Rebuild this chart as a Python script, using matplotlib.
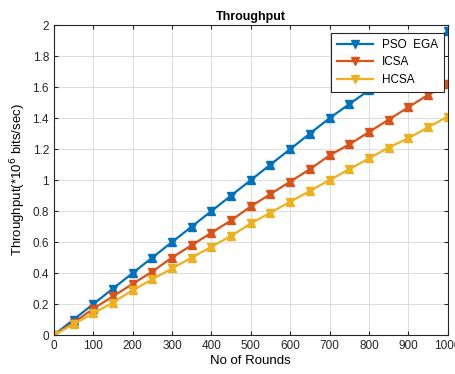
import numpy as np
import matplotlib.pyplot as plt

plt.rcParams['font.family'] = ['Liberation Sans', 'DejaVu Sans']

rounds = [0, 50, 100, 150, 200, 250, 300, 350, 400, 450, 500,
          550, 600, 650, 700, 750, 800, 850, 900, 950, 1000]
pso_ega = [0, 0.10, 0.20, 0.30, 0.40, 0.50, 0.60, 0.70, 0.80, 0.90, 1.00,
           1.10, 1.20, 1.30, 1.40, 1.49, 1.58, 1.68, 1.77, 1.87, 1.96]
icsa = [0, 0.08, 0.17, 0.25, 0.33, 0.41, 0.50, 0.58, 0.66, 0.74, 0.83,
        0.91, 0.99, 1.07, 1.16, 1.23, 1.31, 1.39, 1.47, 1.55, 1.62]
hcsa = [0, 0.07, 0.14, 0.21, 0.29, 0.36, 0.43, 0.50, 0.57, 0.64, 0.72,
        0.79, 0.86, 0.93, 1.00, 1.07, 1.14, 1.21, 1.27, 1.34, 1.41]
names = ['PSO  EGA', 'ICSA', 'HCSA']
colors = ['#0072BD', '#D95319', '#EDB120']

fig = plt.figure(figsize=(4.56, 3.74), dpi=100)
ax = fig.add_axes([0.118, 0.104, 0.864, 0.829])

for vals, name, c in zip([pso_ega, icsa, hcsa], names, colors):
    ax.plot(rounds, vals, '-v', color=c, lw=1.6, ms=5.5, label=name)
    ax.plot(rounds, vals, '^', color=c, ms=5.5)

ax.set_xlim(0, 1000)
ax.set_ylim(0, 2)
ax.set_xticks(np.arange(0, 1001, 100))
ax.set_yticks(np.arange(0, 2.01, 0.2))
ax.set_yticklabels(['0', '0.2', '0.4', '0.6', '0.8', '1', '1.2', '1.4', '1.6', '1.8', '2'])
ax.grid(True, color='#dcdcdc', lw=0.7)
ax.tick_params(direction='in', top=True, right=True, labelsize=8.5, colors='#262626', length=3)
for s in ax.spines.values():
    s.set_color('#262626')

ax.set_title('Throughput', fontsize=9, fontweight='bold', pad=4)
ax.set_xlabel('No of Rounds', fontsize=9.5, labelpad=2)
ax.set_ylabel('Throughput(*10$^6$ bits/sec)', fontsize=9.5, labelpad=3)

leg = ax.legend(loc='upper right', bbox_to_anchor=(1.0, 0.985), fontsize=8.5,
                fancybox=False, edgecolor='#262626', framealpha=1,
                handlelength=3.0, borderaxespad=0.3, labelspacing=0.45,
                borderpad=0.5)
leg.get_frame().set_linewidth(0.8)

fig.savefig('out.png', dpi=100)
